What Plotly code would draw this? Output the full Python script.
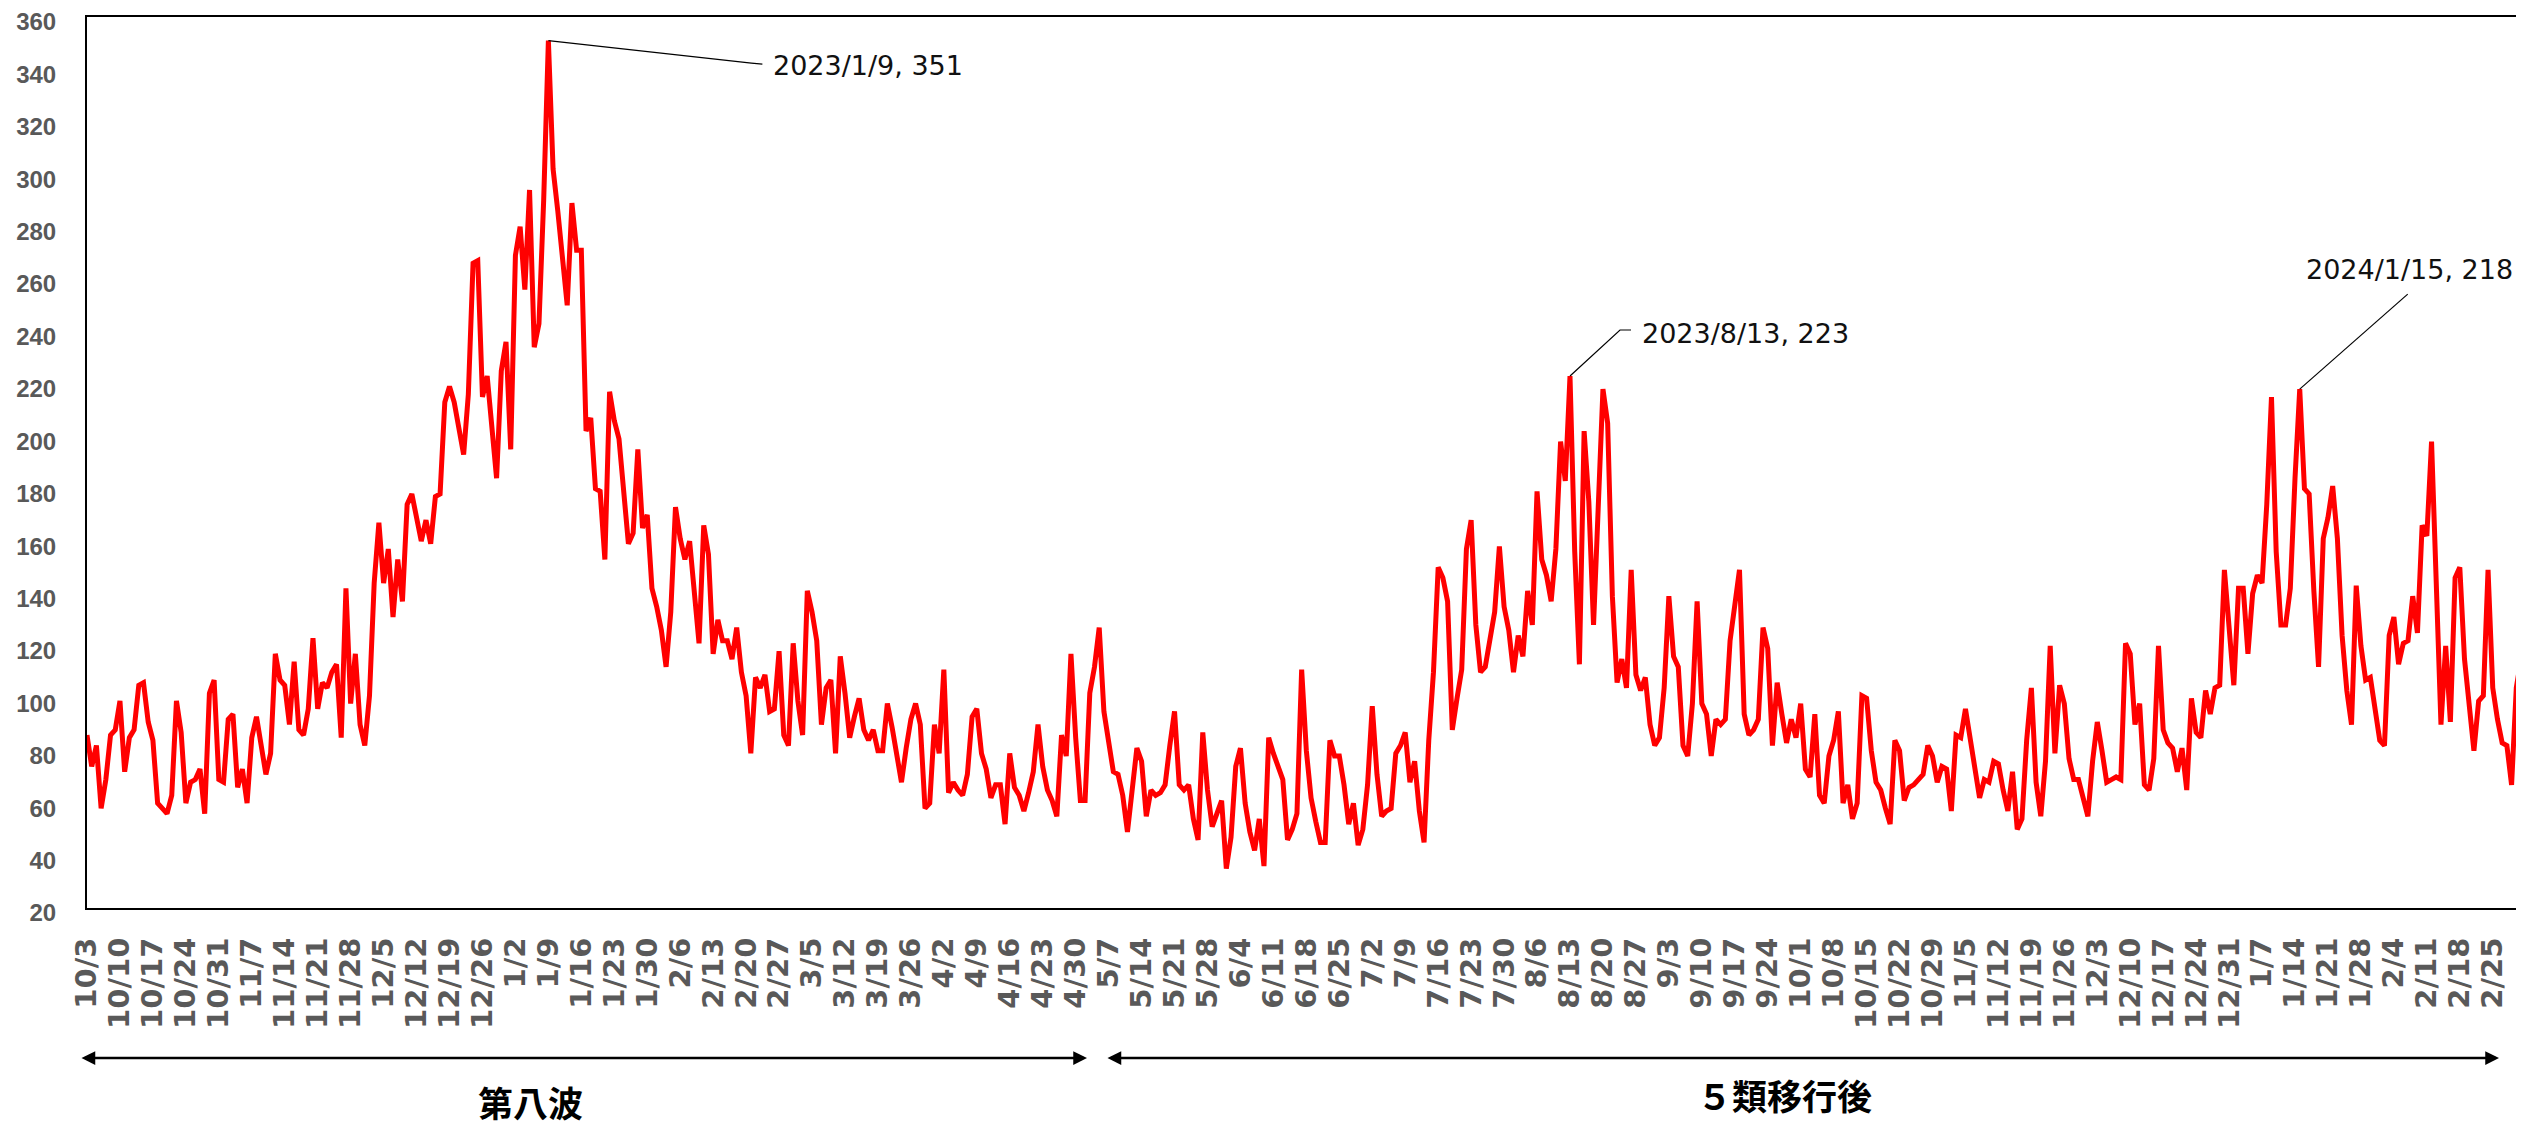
import pandas as pd
import plotly.graph_objects as go

# ---------------- data ----------------
# The source series lists 2023/2/28 twice, so the daily categories come in two runs.
SEG1 = ("2022-10-03", "2023-02-28")
SEG2 = ("2023-02-28", "2024-03-02")

values = [
    86, 74, 82, 58, 69, 86, 88, 99, 72, 85, 88, 105, 106, 91, 84, 60, 58, 56, 63, 99,
    87, 60, 68, 69, 73, 56, 102, 107, 69, 68, 92, 94, 66, 73, 60, 85, 93, 82, 71, 79,
    117, 107, 105, 90, 114, 88, 86, 96, 123, 96, 106, 104, 110, 113, 85, 142, 98, 117, 90, 82,
    101, 144, 167, 144, 157, 131, 153, 137, 174, 178, 168, 160, 168, 159, 177, 178, 213, 219, 213, 204,
    193, 216, 266, 267, 215, 223, 203, 184, 225, 236, 195, 269, 280, 256, 294, 234, 243, 290, 351, 302,
    286, 270, 250, 289, 271, 271, 202, 207, 180, 179, 153, 217, 206, 199, 177, 159, 163, 195, 165, 170,
    142, 135, 126, 112, 133, 173, 161, 153, 160, 139, 121, 166, 155, 117, 130, 122, 122, 115, 127, 110,
    101, 79, 108, 104, 109, 95, 96, 118, 86, 82, 121, 99, 86, 141, 133, 122, 90, 104, 107, 79,
    116, 102, 85, 93, 100, 88, 84, 88, 80, 80, 98, 89, 78, 68, 81, 92, 98, 90, 58, 60,
    90, 79, 111, 64, 68, 65, 63, 71, 93, 96, 79, 73, 62, 67, 67, 52, 79, 66, 63, 57,
    64, 72, 90, 74, 65, 61, 55, 86, 78, 117, 85, 61, 61, 102, 112, 127, 95, 83, 72, 71,
    63, 49, 65, 81, 76, 55, 65, 63, 64, 67, 82, 95, 67, 65, 67, 54, 46, 87, 65, 51,
    56, 61, 35, 47, 74, 81, 60, 49, 42, 54, 36, 85, 79, 74, 69, 46, 50, 56, 111, 80,
    62, 53, 45, 45, 84, 78, 78, 67, 52, 60, 44, 50, 67, 97, 71, 55, 57, 58, 79, 82,
    87, 68, 76, 57, 45, 84, 110, 150, 146, 137, 88, 100, 111, 157, 168, 128, 110, 112, 123, 133, 158,
    135, 126, 110, 124, 116, 141, 128, 179, 153, 147, 137, 157, 198, 183, 223, 156, 113, 202, 175, 128,
    179, 218, 205, 139, 106, 115, 104, 149, 109, 103, 108, 90, 82, 85, 104, 139, 116, 112, 82, 78,
    98, 137, 98, 94, 78, 92, 90, 92, 122, 137, 149, 94, 86, 88, 92, 127, 119, 82, 106, 94,
    83, 92, 85, 98, 73, 70, 94, 63, 60, 78, 84, 95, 60, 67, 54, 60, 101, 100, 80, 68,
    65, 58, 52, 84, 80, 61, 66, 67, 69, 71, 82, 78, 68, 74, 73, 57, 86, 85, 96, 84,
    71, 62, 69, 68, 76, 75, 65, 57, 72, 50, 54, 84, 104, 68, 55, 76, 120, 79, 105, 98,
    77, 69, 69, 62, 55, 76, 91, 80, 68, 69, 70, 69, 121, 117, 90, 98, 67, 65, 77, 120,
    88, 83, 81, 72, 81, 65, 100, 87, 85, 103, 94, 104, 105, 149, 126, 105, 142, 142, 117, 140,
    147, 144, 174, 215, 156, 128, 128, 142, 184, 218, 180, 178, 141, 112, 161, 169, 181, 161, 124, 103,
    90, 143, 120, 107, 108, 96, 84, 82, 124, 131, 113, 121, 122, 139, 125, 166, 162, 198, 137, 90,
    120, 91, 146, 150, 115, 97, 80, 99, 101, 149, 104, 92, 83, 82, 67, 104, 115,
]

dates = list(pd.date_range(*SEG1, freq="D")) + list(pd.date_range(*SEG2, freq="D"))
labels = [f"{d.month}/{d.day}" for d in dates]
idx = list(range(len(values)))

TICK_EVERY = 7
Y_MIN, Y_MAX, Y_STEP = 20, 360, 20

peak_dates = ["2023-01-09", "2023-08-13", "2024-01-15"]

period_labels = ["第八波", "５類移行後"]

# ---------------- layout constants (pixels, figure space) ----------------
# the page body adds an 8px margin, so the figure is sized to fit the window
W, H = 2516, 1118
ML, MR, MT, MB = 79, 3, 9, 218
PW = W - ML - MR
PH = H - MT - MB


def px_x(p):
    return (p - ML) / PW


def px_y(p):
    return (H - MB - p) / PH


fig = go.Figure()
fig.add_trace(go.Scatter(
    x=idx, y=values, mode="lines",
    line=dict(color="#FF0000", width=5),
    customdata=labels, hovertemplate="%{customdata}: %{y}<extra></extra>",
))

# leader lines (pixel offsets from the peak point) and label placement
leaders = [
    dict(path="M0,0 L203,-22.5 L214,-23.5", xshift=223, yshift=-24.5),
    dict(path="M0,0 L50,46 L61,46", xshift=70, yshift=43),
    dict(path="M0,0 L108,95", xshift=4, yshift=120),
]

shapes = []
annotations = []
for d, spec in zip(peak_dates, leaders):
    ts = pd.Timestamp(d)
    i = dates.index(ts)
    v = values[i]
    label = f"{ts.year}/{ts.month}/{ts.day}, {v}"
    shapes.append(dict(
        type="path", xref="x", yref="y",
        xsizemode="pixel", ysizemode="pixel",
        xanchor=i, yanchor=v, path=spec["path"],
        line=dict(color="black", width=1.2),
    ))
    x_paper = (PW * i / (len(values) - 1) + spec["xshift"]) / PW
    annotations.append(dict(
        x=x_paper, y=v, xref="paper", yref="y", text=label, showarrow=False,
        xanchor="left", yanchor="middle",
        yshift=spec["yshift"],
        font=dict(family="DejaVu Sans", size=27, color="#111111"),
    ))

# period arrows below the axis
arrow_y = px_y(1050)
for x0, x1 in [(72, 1079), (1098, 2491)]:
    annotations.append(dict(
        x=px_x(x1), y=arrow_y, xref="paper", yref="paper",
        ax=-(x1 - x0), ay=0, axref="pixel", ayref="pixel",
        text="", showarrow=True,
        arrowhead=2, arrowsize=1.1, arrowwidth=2.5, arrowcolor="black",
        startarrowhead=2, startarrowsize=1.1, arrowside="end+start",
        standoff=0, startstandoff=0,
    ))

for txt, cx, cy in zip(period_labels, [522, 1776], [1093, 1086]):
    annotations.append(dict(
        x=px_x(cx), y=px_y(cy), xref="paper", yref="paper",
        text=txt, showarrow=False, xanchor="center", yanchor="middle",
        font=dict(family="Noto Sans CJK JP", size=35, color="black", weight="bold"),
    ))

tickvals = idx[::TICK_EVERY]
ticktext = [labels[i] for i in tickvals]

fig.update_layout(
    width=W, height=H,
    margin=dict(l=ML, r=MR, t=MT, b=MB, autoexpand=False),
    plot_bgcolor="white", paper_bgcolor="white",
    showlegend=False,
    shapes=shapes,
    annotations=annotations,
    xaxis=dict(
        range=[0, len(values) - 1],
        tickmode="array", tickvals=tickvals, ticktext=ticktext,
        tickangle=-90,
        tickfont=dict(family="DejaVu Sans", size=29, color="#595959", weight="bold"),
        showline=True, linecolor="black", linewidth=2, mirror=True,
        showgrid=False, zeroline=False, ticks="",
        ticklabelstandoff=16, automargin=False, ticklabeloverflow="allow",
    ),
    yaxis=dict(
        range=[Y_MIN, Y_MAX], tick0=Y_MIN, dtick=Y_STEP,
        tickfont=dict(family="Liberation Sans", size=24, color="#595959", weight="bold"),
        showline=True, linecolor="black", linewidth=2, mirror=True,
        showgrid=False, zeroline=False, ticks="",
        ticklabelstandoff=24, ticklabelshift=5,
        automargin=False, ticklabeloverflow="allow",
    ),
)

fig.write_html("out.html")
